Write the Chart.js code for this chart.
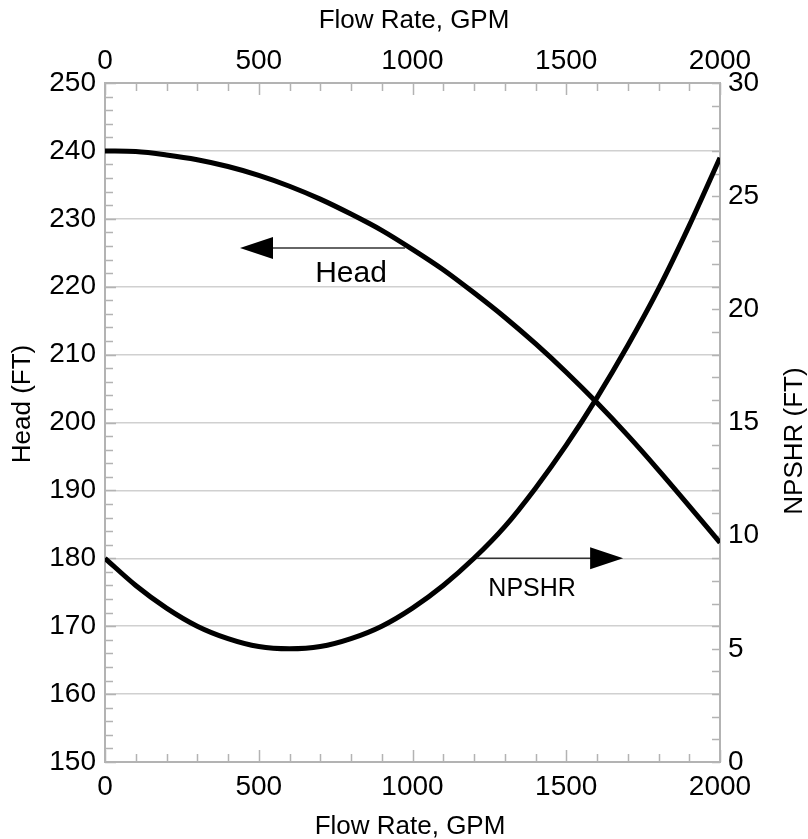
<!DOCTYPE html>
<html>
<head>
<meta charset="utf-8">
<script src="https://cdn.jsdelivr.net/npm/chart.js@4.4.1/dist/chart.umd.min.js"></script>
<style>
  html, body { margin: 0; padding: 0; background: #fff; }
  canvas { display: block; }
</style>
</head>
<body>
<canvas id="pumpChart" width="808" height="839"></canvas>
<script>
// values
const flowRate = [0, 100, 200, 300, 400, 500, 600, 700, 800, 900, 1000,
                  1100, 1200, 1300, 1400, 1500, 1600, 1700, 1800, 1900, 2000];
const headFt = [240, 239.9, 239.4, 238.7, 237.7, 236.4, 234.8, 232.9, 230.7, 228.3, 225.5,
                222.5, 219.1, 215.5, 211.6, 207.4, 202.9, 198.1, 193.0, 187.7, 182.3];
const npshrFt = [9.0, 7.8, 6.8, 6.0, 5.45, 5.1, 5.0, 5.1, 5.45, 6.0, 6.8,
                 7.8, 9.0, 10.4, 12.1, 14.0, 16.1, 18.4, 20.9, 23.7, 26.7];

const FONT = "'Liberation Sans', Arial, sans-serif";
const AXIS_GRAY = '#b3b3b3';

// arrows + labels pointing each curve at its axis (data units)
const headNote = { axis: 'y', y: 225.7, from: 976, to: 439, text: 'Head', tx: 800, ty: 221.9, size: 30 };
const npshrNote = { axis: 'y2', y: 9, from: 1210, to: 1685, text: 'NPSHR', tx: 1389, ty: 7.64, size: 25 };

const tickMarks = {
  id: 'tickMarks',
  beforeDatasetsDraw(chart) {
    const ctx = chart.ctx;
    const a = chart.chartArea;
    const x = chart.scales.x, y = chart.scales.y, y2 = chart.scales.y2;
    ctx.save();
    ctx.strokeStyle = AXIS_GRAY;
    ctx.lineWidth = 1.5;
    ctx.beginPath();
    for (let v = 0; v <= 2000; v += 100) {
      const px = Math.round(x.getPixelForValue(v)) + 0.5;
      const len = v % 500 === 0 ? 12 : 8;
      ctx.moveTo(px, a.bottom); ctx.lineTo(px, a.bottom - len);
      ctx.moveTo(px, a.top); ctx.lineTo(px, a.top + len);
    }
    for (let v = 150; v <= 250; v += 2) {
      const py = Math.round(y.getPixelForValue(v)) + 0.5;
      const len = v % 10 === 0 ? 11 : 8;
      ctx.moveTo(a.left, py); ctx.lineTo(a.left + len, py);
    }
    for (let v = 0; v <= 30; v += 1) {
      const py = Math.round(y2.getPixelForValue(v)) + 0.5;
      ctx.moveTo(a.right, py); ctx.lineTo(a.right - 8, py);
    }
    ctx.stroke();
    ctx.restore();
  },
  afterDatasetsDraw(chart) {
    const ctx = chart.ctx;
    const x = chart.scales.x;
    [headNote, npshrNote].forEach(n => {
      const ys = chart.scales[n.axis];
      const py = ys.getPixelForValue(n.y);
      const x0 = x.getPixelForValue(n.from);
      const x1 = x.getPixelForValue(n.to);
      const dir = x1 > x0 ? -1 : 1;
      ctx.save();
      ctx.strokeStyle = '#333';
      ctx.lineWidth = 1.5;
      ctx.beginPath();
      ctx.moveTo(x0, py); ctx.lineTo(x1 + dir * 20, py);
      ctx.stroke();
      ctx.fillStyle = '#000';
      ctx.beginPath();
      ctx.moveTo(x1, py);
      ctx.lineTo(x1 + dir * 33, py - 11);
      ctx.lineTo(x1 + dir * 33, py + 11);
      ctx.closePath();
      ctx.fill();
      ctx.font = n.size + 'px ' + FONT;
      ctx.textAlign = 'center';
      ctx.textBaseline = 'middle';
      ctx.fillText(n.text, x.getPixelForValue(n.tx), ys.getPixelForValue(n.ty));
      ctx.restore();
    });
  },
  afterDraw(chart) {
    const ctx = chart.ctx;
    ctx.save();
    ctx.fillStyle = '#000';
    ctx.font = '26px ' + FONT;
    ctx.textAlign = 'center';
    ctx.textBaseline = 'middle';
    ctx.fillText('Flow Rate, GPM', 414, 21);
    ctx.fillText('Flow Rate, GPM', 410, 827);
    ctx.translate(23, 404);
    ctx.rotate(-Math.PI / 2);
    ctx.fillText('Head (FT)', 0, 0);
    ctx.restore();
    ctx.save();
    ctx.fillStyle = '#000';
    ctx.font = '26px ' + FONT;
    ctx.textAlign = 'center';
    ctx.textBaseline = 'middle';
    ctx.translate(795, 441);
    ctx.rotate(-Math.PI / 2);
    ctx.fillText('NPSHR (FT)', 0, 0);
    ctx.restore();
  }
};

const tickFont = { family: FONT, size: 28 };
const plainNum = v => String(v);

new Chart(document.getElementById('pumpChart'), {
  type: 'line',
  data: {
    datasets: [{
      label: 'Head',
      data: flowRate.map((f, i) => ({ x: f, y: headFt[i] })),
      yAxisID: 'y',
      borderColor: '#000',
      borderWidth: 5,
      pointRadius: 0,
      cubicInterpolationMode: 'monotone',
      clip: 0
    }, {
      label: 'NPSHR',
      data: flowRate.map((f, i) => ({ x: f, y: npshrFt[i] })),
      yAxisID: 'y2',
      borderColor: '#000',
      borderWidth: 5,
      pointRadius: 0,
      cubicInterpolationMode: 'monotone',
      clip: 0
    }]
  },
  options: {
    responsive: false,
    animation: false,
    layout: { padding: 0 },
    plugins: { legend: { display: false }, tooltip: { enabled: false } },
    scales: {
      x: {
        type: 'linear', position: 'bottom', min: 0, max: 2000,
        ticks: { stepSize: 500, color: '#000', font: tickFont, padding: 8, maxRotation: 0, callback: plainNum },
        grid: { display: false, drawTicks: false },
        border: { color: AXIS_GRAY, width: 2 },
        afterFit: s => { s.height = 77; }
      },
      x2: {
        type: 'linear', position: 'top', min: 0, max: 2000,
        ticks: { stepSize: 500, color: '#000', font: tickFont, padding: 5, maxRotation: 0, callback: plainNum },
        grid: { display: false, drawTicks: false },
        border: { color: AXIS_GRAY, width: 2 },
        afterFit: s => { s.height = 83; }
      },
      y: {
        position: 'left', min: 150, max: 250,
        ticks: { stepSize: 10, color: '#000', font: tickFont, padding: 9, callback: plainNum },
        grid: { color: '#d0d0d0', lineWidth: 1.5, drawTicks: false },
        border: { color: AXIS_GRAY, width: 2 },
        afterFit: s => { s.width = 105; }
      },
      y2: {
        position: 'right', min: 0, max: 30,
        ticks: { stepSize: 5, color: '#000', font: tickFont, padding: 8, callback: plainNum },
        grid: { display: false, drawTicks: false },
        border: { color: AXIS_GRAY, width: 2 },
        afterFit: s => { s.width = 88; }
      }
    }
  },
  plugins: [tickMarks]
});
</script>
</body>
</html>
